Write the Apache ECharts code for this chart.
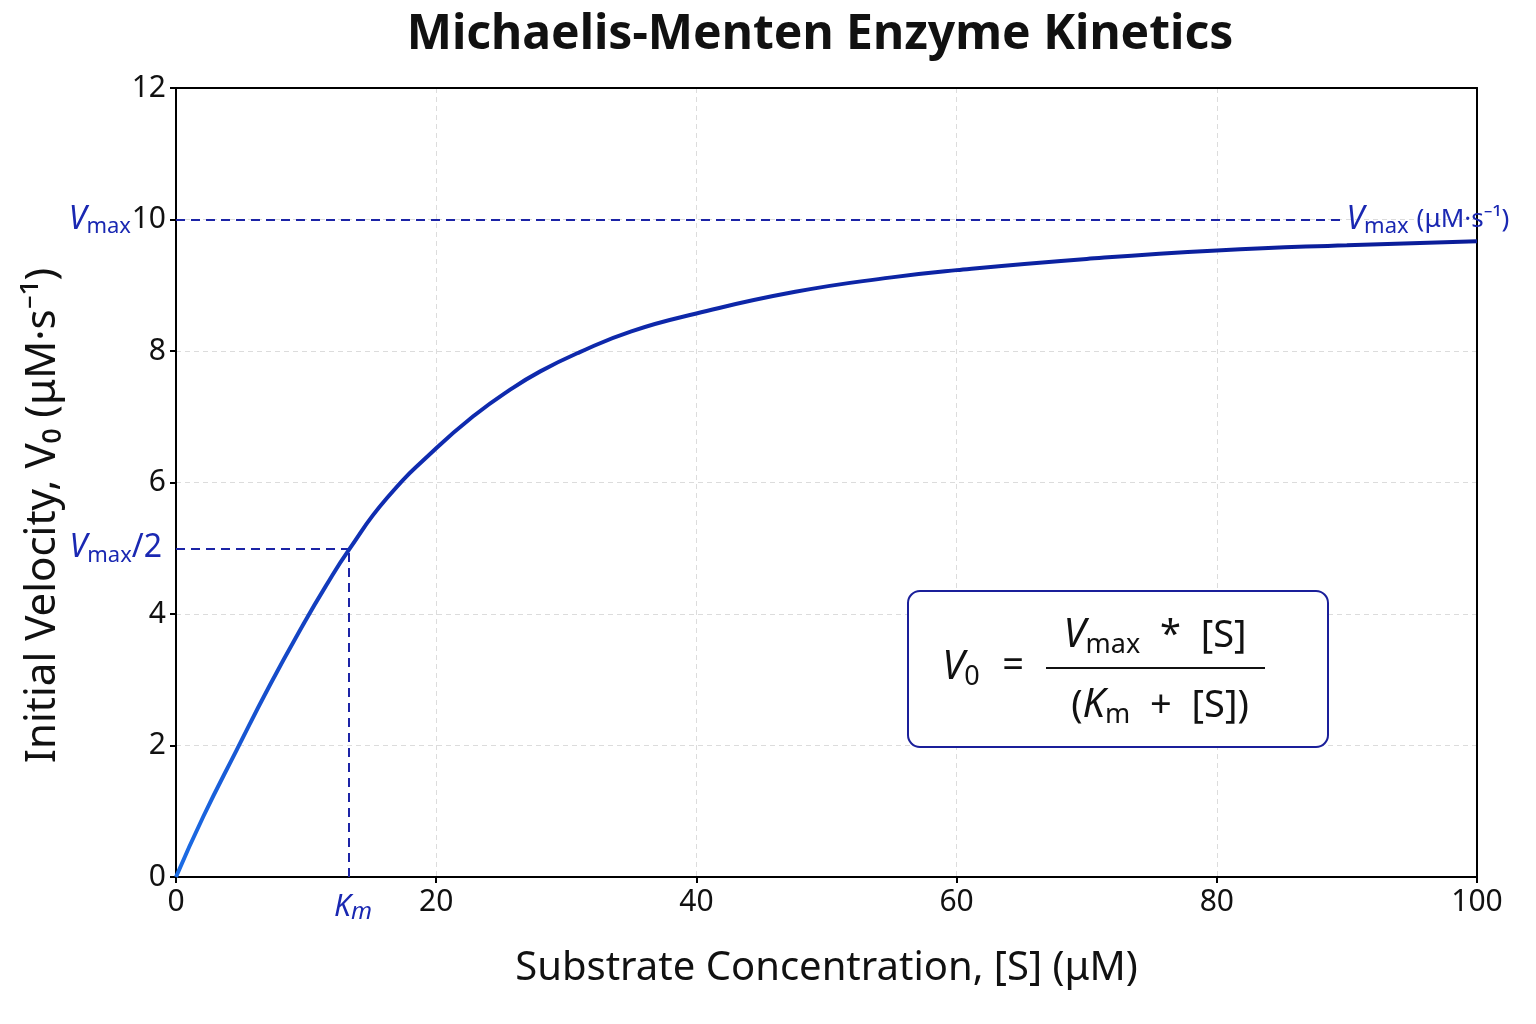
<!DOCTYPE html>
<html>
<head>
<meta charset="utf-8">
<script src="https://cdn.jsdelivr.net/npm/echarts@6/dist/echarts.min.js"></script>
<style>
  html, body { margin: 0; background: #fff; }
  #main { width: 1536px; height: 1024px; }
</style>
</head>
<body>
<div id="main"></div>
<script>
// substrate concentration [S] (uM) and initial velocity V0 (uM/s)
const substrate = [0, 2.1, 4.66, 7.22, 9.78, 11.5, 13.3, 16.2, 20, 23, 25.6, 28, 31, 35, 40, 47.6, 55, 60, 70, 80, 90, 100];
const velocity = [0, 0.92, 1.93, 2.92, 3.84, 4.42, 4.98, 5.76, 6.52, 7.03, 7.40, 7.69, 7.98, 8.3, 8.57, 8.9, 9.12, 9.23, 9.40, 9.53, 9.61, 9.67];
const vmax = 10;
const km = 13.3;
const vmaxLineEnd = 89.5;

const FONT = '"Noto Sans", "DejaVu Sans", sans-serif';
const NAVY = '#1c24a6';
const LABEL_BLUE = '#1a28b2';

const chart = echarts.init(document.getElementById('main'));

const curve = substrate.map((s, i) => [s, velocity[i]]);

const dashed = { color: NAVY, width: 2, type: [9, 6] };
const frame = { show: true, onZero: false, lineStyle: { color: '#000', width: 2 } };

const option = {
  backgroundColor: '#fff',
  animation: false,
  title: {
    text: 'Michaelis-Menten Enzyme Kinetics',
    left: 815, top: 6, textAlign: 'center',
    textStyle: { fontFamily: FONT, fontSize: 48, fontWeight: 'bold', color: '#111' }
  },
  grid: { left: 176, right: 59, top: 88, bottom: 147 },
  xAxis: [{
    type: 'value', min: 0, max: 100, interval: 20,
    name: 'Substrate Concentration, [S] (μM)',
    nameLocation: 'middle', nameGap: 72,
    nameTextStyle: { fontFamily: FONT, fontSize: 40, color: '#111' },
    axisLine: { show: true, onZero: false, lineStyle: { color: '#000', width: 2 } },
    axisTick: { show: true, length: 6, lineStyle: { color: '#000', width: 2 } },
    axisLabel: { fontFamily: FONT, fontSize: 30, color: '#111', margin: 10 },
    splitLine: { show: true, lineStyle: { color: '#dcdcdc', width: 1, type: [5, 4] } }
  }, {
    type: 'value', min: 0, max: 100, position: 'top',
    axisLine: frame, axisTick: { show: false }, axisLabel: { show: false }, splitLine: { show: false }
  }],
  yAxis: [{
    type: 'value', min: 0, max: 12, interval: 2,
    name: 'Initial Velocity, V₀ (μM·s⁻¹)',
    nameLocation: 'middle', nameGap: 112, nameRotate: 90,
    nameTextStyle: { fontFamily: FONT, fontSize: 42, color: '#111', padding: [0, 66, 0, 0] },
    axisLine: { show: true, onZero: false, lineStyle: { color: '#000', width: 2 } },
    axisTick: { show: true, length: 6, lineStyle: { color: '#000', width: 2 } },
    axisLabel: { fontFamily: FONT, fontSize: 30, color: '#111', margin: 10 },
    splitLine: { show: true, lineStyle: { color: '#dcdcdc', width: 1, type: [5, 4] } }
  }, {
    type: 'value', min: 0, max: 12, position: 'right',
    axisLine: frame, axisTick: { show: false }, axisLabel: { show: false }, splitLine: { show: false }
  }],
  series: [{
    type: 'line',
    data: curve,
    smooth: 0.5,
    showSymbol: false,
    lineStyle: {
      width: 4,
      color: new echarts.graphic.LinearGradient(0, 0, 1, 0, [
        { offset: 0, color: '#1c6ee6' },
        { offset: 0.15, color: '#0f2cb0' },
        { offset: 1, color: '#0a1c98' }
      ])
    },
    z: 5,
    markLine: {
      silent: true,
      symbol: 'none',
      lineStyle: dashed,
      data: [
        [{ coord: [0, vmax] }, {
          coord: [vmaxLineEnd, vmax],
          label: {
            show: true, position: 'end', distance: 6,
            formatter: '{v|V}{s|max}{u|(μM·s⁻¹)}',
            rich: {
              v: { fontFamily: FONT, fontSize: 32, fontStyle: 'italic', color: LABEL_BLUE },
              s: { fontFamily: FONT, fontSize: 22, color: LABEL_BLUE, padding: [14, 0, 0, 0] },
              u: { fontFamily: FONT, fontSize: 26, color: LABEL_BLUE, padding: [0, 0, 0, 8] }
            }
          }
        }],
        [{ coord: [0, vmax / 2] }, { coord: [km, vmax / 2] }],
        [{ coord: [km, 0] }, { coord: [km, vmax / 2] }]
      ],
      label: { show: false }
    }
  }]
};

chart.setOption(option);

// annotation labels placed from data coordinates
const pV = chart.convertToPixel({ gridIndex: 0 }, [0, vmax]);
const pH = chart.convertToPixel({ gridIndex: 0 }, [0, vmax / 2]);
const pK = chart.convertToPixel({ gridIndex: 0 }, [km, 0]);

const richBlue = {
  v: { fontFamily: FONT, fontSize: 32, fontStyle: 'italic', fill: LABEL_BLUE },
  s: { fontFamily: FONT, fontSize: 22, fill: LABEL_BLUE, padding: [14, 0, 0, 0] },
  n: { fontFamily: FONT, fontSize: 32, fill: LABEL_BLUE }
};
const richEq = {
  v: { fontFamily: FONT, fontSize: 40, fontStyle: 'italic', fill: '#111' },
  s: { fontFamily: FONT, fontSize: 27, fill: '#111', padding: [18, 0, 0, 0] },
  n: { fontFamily: FONT, fontSize: 38, fill: '#111' }
};

chart.setOption({
  graphic: [
    {
      type: 'text', x: pV[0] - 45, y: pV[1],
      style: { text: '{v|V}{s|max}', rich: richBlue, align: 'right', verticalAlign: 'middle' }
    },
    {
      type: 'text', x: pH[0] - 14, y: pH[1],
      style: { text: '{v|V}{s|max}{n|/2}', rich: richBlue, align: 'right', verticalAlign: 'middle' }
    },
    {
      type: 'text', x: pK[0] + 4, y: pK[1] + 30,
      style: {
        text: '{v|K}{m|m}',
        rich: {
          v: { fontFamily: FONT, fontSize: 30, fontStyle: 'italic', fill: LABEL_BLUE },
          m: { fontFamily: FONT, fontSize: 24, fontStyle: 'italic', fill: LABEL_BLUE, padding: [10, 0, 0, 0] }
        },
        align: 'center', verticalAlign: 'middle'
      }
    },
    {
      type: 'rect',
      shape: { x: 908, y: 591, width: 420, height: 156, r: 12 },
      style: { fill: '#fff', stroke: '#1a1f9a', lineWidth: 2 },
      z: 10
    },
    {
      type: 'text', x: 961, y: 668, z: 11,
      style: { text: '{v|V}{s|0}', rich: richEq, align: 'center', verticalAlign: 'middle' }
    },
    {
      type: 'text', x: 1013, y: 666, z: 11,
      style: { text: '=', fontFamily: FONT, fontSize: 38, fill: '#111', align: 'center', verticalAlign: 'middle' }
    },
    {
      type: 'text', x: 1155, y: 636, z: 11,
      style: { text: '{v|V}{s|max}{n|  *  [S]}', rich: richEq, align: 'center', verticalAlign: 'middle' }
    },
    {
      type: 'line', z: 11,
      shape: { x1: 1046, y1: 668, x2: 1265, y2: 668 },
      style: { stroke: '#111', lineWidth: 2 }
    },
    {
      type: 'text', x: 1160, y: 706, z: 11,
      style: { text: '{n|(}{v|K}{s|m}{n|  +  [S])}', rich: richEq, align: 'center', verticalAlign: 'middle' }
    }
  ]
});
</script>
</body>
</html>
